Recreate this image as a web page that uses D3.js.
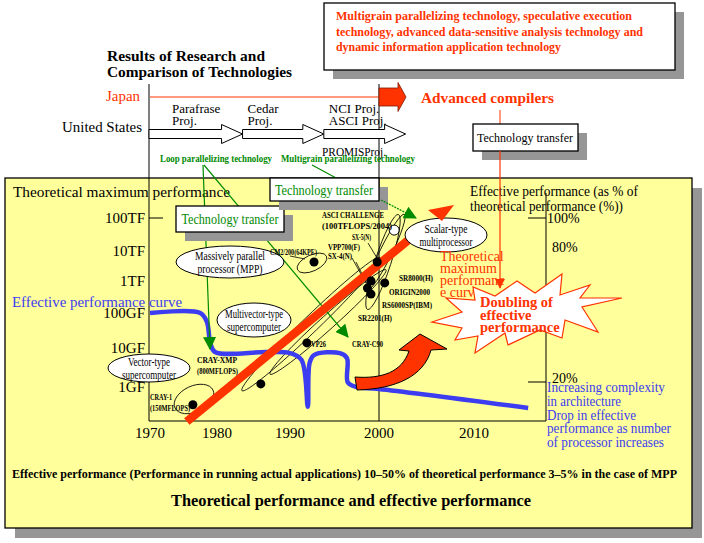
<!DOCTYPE html>
<html lang="en">
<head>
<meta charset="utf-8">
<title>Theoretical performance and effective performance</title>
<script src="https://d3js.org/d3.v7.min.js"></script>
<style>
  body { margin: 0; background: #fff; }
</style>
</head>
<body>
<script>
// axis ticks (the original axis is hand drawn, so ticks are not evenly spaced)
var yearTicks = [1970, 1980, 1990, 2000, 2010];
var perfTicks = [1, 10, 100, 1000, 10000, 100000];          // GFLOPS
var perfLabels = ["1GF", "10GF", "100GF", "1TF", "10TF", "100TF"];
var pctTicks = [20, 80, 100];
var pctLabels = ["20%", "80%", "100%"];

// effective performance curve (year, GFLOPS)
var effYears = [1970, 1977.5, 1978.5, 1979, 1979.7, 1986.8, 1990, 1991.3, 1992, 1992.2, 1992.7, 1995.6, 1996.4, 1996.5, 1997.5, 2000, 2015.7];
var effPerf  = [100, 100, 55, 14, 7.9, 7.9, 7.4, 4.9, 0.31, 4.1, 6.6, 7.4, 5.5, 1.3, 1.0, 0.89, 0.29];

// theoretical maximum performance line
var theoYears = [1975.5, 2003.1];
var theoPerf = [0.13, 21500];

// machines (year, GFLOPS)
var machineYears = [1976.4, 1986.0, 1991.9, 1992.7, 1999.8, 1999.1, 2000.6, 1998.7, 1999.1];
var machinePerf  = [0.35, 1.2, 14, 4300, 4300, 1000, 870, 600, 390];
var plannedYears = [2001.6];          // ASCI challenge (open circle)
var plannedPerf  = [43000];

// US research projects on the time line
var projNames = [["Parafrase", "Proj."], ["Cedar", "Proj."], ["NCI Proj.", "ASCI Proj."]];
var projStart = [1970, 1983.5, 1993.8];
var projEnd   = [1983.5, 1993.8, 2002.8];

var W = 704, H = 543;
var red = "#ff3300", blue = "#3c3cf0", green = "#008a00", yellow = "#ffff9c", shadow = "#969696";
var serif = "'Liberation Serif'";

var svg = d3.select("body").append("svg").attr("width", W).attr("height", H).style("display", "block");

var x = d3.scaleLinear().domain(yearTicks).range([150, 217, 290, 379, 474]);
var y = d3.scaleLog().domain(perfTicks).range([387, 348, 313, 281, 251, 218]);
var pct = d3.scaleLinear().domain(pctTicks).range([382, 247, 218]);

var defs = svg.append("defs");
defs.append("marker").attr("id", "garrow")
    .attr("viewBox", "0 0 12 12").attr("refX", 11).attr("refY", 6)
    .attr("markerWidth", 13).attr("markerHeight", 13)
    .attr("markerUnits", "userSpaceOnUse").attr("orient", "auto")
  .append("path").attr("d", "M0,0 L12,6 L0,12 Z").attr("fill", green);
defs.append("marker").attr("id", "rarrow")
    .attr("viewBox", "0 0 12 12").attr("refX", 11).attr("refY", 6)
    .attr("markerWidth", 10).attr("markerHeight", 10)
    .attr("markerUnits", "userSpaceOnUse").attr("orient", "auto")
  .append("path").attr("d", "M0,0 L12,6 L0,12 Z").attr("fill", red);

function blockArrow(x0, x1, yc, hb, hh, hl) {
  return [[x0, yc - hb], [x1 - hl, yc - hb], [x1 - hl, yc - hh], [x1, yc],
          [x1 - hl, yc + hh], [x1 - hl, yc + hb], [x0, yc + hb]].join(" ");
}

function shadowBox(x0, y0, w, h, off, fill, stroke) {
  svg.append("rect").attr("x", x0 + off).attr("y", y0 + off).attr("width", w).attr("height", h).attr("fill", shadow);
  svg.append("rect").attr("x", x0).attr("y", y0).attr("width", w).attr("height", h)
     .attr("fill", fill).attr("stroke", stroke).attr("stroke-width", 1.3);
}

function txt(x0, y0, s, size, len) {
  var t = svg.append("text").attr("x", x0).attr("y", y0)
     .style("font-family", serif).style("font-size", size + "px").text(s);
  if (len) t.attr("textLength", len).attr("lengthAdjust", "spacingAndGlyphs");
  return t;
}

// ---------- top part ----------
shadowBox(324, 3, 351, 67, 9, "#fff", "#000");
var topLines = ["Multigrain parallelizing technology, speculative execution",
                "technology, advanced data-sensitive analysis technology and",
                "dynamic information application technology"];
var topLen = [296, 307, 225];
topLines.forEach(function (t, i) {
  txt(336, 20 + i * 15.5, t, 12.5, topLen[i]).attr("fill", red).style("font-weight", "bold");
});

txt(107, 61, "Results of Research and", 14.5, 158).style("font-weight", "bold");
txt(107, 77, "Comparison of Technologies", 14.5, 185).style("font-weight", "bold");

// main yellow panel
shadowBox(5, 178, 687, 350, 10, yellow, "#000");

// vertical time line markers
svg.append("line").attr("x1", x(1970) - 1).attr("x2", x(1970) - 1).attr("y1", 84).attr("y2", 421).attr("stroke", "#000");
svg.append("line").attr("x1", x(2000)).attr("x2", x(2000)).attr("y1", 84).attr("y2", 421).attr("stroke", "#000");

// Japan
txt(106, 101, "Japan", 14.5, 34).attr("fill", red);
svg.append("line").attr("x1", x(1970)).attr("x2", x(2000)).attr("y1", 97).attr("y2", 97).attr("stroke", red);
svg.append("polygon").attr("points", blockArrow(x(2000), 406, 97, 9, 14.5, 8))
   .attr("fill", red).attr("stroke", "#7a1a00").attr("stroke-width", 0.8);
txt(421, 103, "Advanced compilers", 15, 133).attr("fill", red).style("font-weight", "bold");

// United States
txt(62, 132, "United States", 14.5, 80);
projNames.forEach(function (p, i) {
  var x0 = x(projStart[i]) - (i === 0 ? 1 : 0), x1 = x(projEnd[i]);
  svg.append("polygon").attr("points", blockArrow(x0, x1, 134, 4.5, 9.5, 21))
     .attr("fill", "#fff").attr("stroke", "#000").attr("stroke-width", 1);
  p.forEach(function (t, j) {
    txt(x0 + (i === 0 ? 23 : 5), 113 + j * 12, t, 13);
  });
});
txt(322, 156, "PROMISProj.", 13, 64);

txt(160, 162, "Loop parallelizing technology", 9.5, 112).attr("fill", green).style("font-weight", "bold");
txt(281, 162, "Multigrain parallelizing technology", 9.5, 134).attr("fill", green).style("font-weight", "bold");

// technology transfer box (top right) and red pointer
svg.append("line").attr("x1", 500).attr("x2", 500).attr("y1", 110).attr("y2", 126).attr("stroke", red);
shadowBox(473, 124, 105, 27, 9, "#fff", "#000");
txt(525, 142, "Technology transfer", 13, 96).attr("text-anchor", "middle");

// ---------- chart panel ----------
txt(13, 197, "Theoretical maximum performance", 15, 217);

// axes lines
svg.append("line").attr("x1", x(1970) - 1).attr("x2", 546).attr("y1", 421).attr("y2", 421).attr("stroke", "#000");
svg.append("line").attr("x1", 546).attr("x2", 546).attr("y1", 193).attr("y2", 421).attr("stroke", "#000");

// left axis labels
perfTicks.forEach(function (v, i) {
  txt(145, y(v) + 5, perfLabels[i], 15).attr("text-anchor", "end");
});
svg.append("line").attr("x1", 149).attr("x2", 163).attr("y1", y(100000)).attr("y2", y(100000)).attr("stroke", "#000");

// bottom axis labels
yearTicks.forEach(function (v) {
  txt(x(v), 438, String(v), 15).attr("text-anchor", "middle");
});

// right axis
txt(470, 196, "Effective performance (as % of", 14, 168);
txt(470, 211, "theoretical performance (%))", 14, 153);
pctTicks.forEach(function (v, i) {
  if (v !== 80) {
    svg.append("line").attr("x1", 528).attr("x2", 546).attr("y1", pct(v)).attr("y2", pct(v)).attr("stroke", "#000");
  }
  txt(v === 100 ? 547 : 552, pct(v) + (v === 20 ? 1 : 5), pctLabels[i], 14);
});

// blue text
txt(12, 307, "Effective performance curve", 15.5, 170).attr("fill", blue);
var blueLines = ["Increasing complexity", "in architecture", "Drop in effective", "performance as number", "of processor increases"];
var blueLen = [118, 74, 89, 124, 117];
blueLines.forEach(function (t, i) {
  txt(547, 392 + i * 13.8, t, 14, blueLen[i]).attr("fill", blue);
});

// loops grouping machines (thin black)
var loops = [
  [194, 399, 21, 13, -25],
  [311, 324, 96, 8, -44],
  [328, 322, 78, 7, -42],
  [312, 263, 16, 8, -25],
  [383, 262, 50, 8, -72],
  [386, 252, 42, 6, -64]
];
loops.forEach(function (l) {
  svg.append("ellipse").attr("cx", 0).attr("cy", 0).attr("rx", l[2]).attr("ry", l[3])
     .attr("transform", "translate(" + l[0] + "," + l[1] + ") rotate(" + l[4] + ")")
     .attr("fill", "none").attr("stroke", "#000").attr("stroke-width", 0.8);
});
[[290, 256, 305, 259], [368, 243, 377, 258], [352, 258, 366, 283], [356, 262, 370, 290]].forEach(function (s) {
  svg.append("line").attr("x1", s[0]).attr("y1", s[1]).attr("x2", s[2]).attr("y2", s[3])
     .attr("stroke", "#000").attr("stroke-width", 0.8);
});

// effective performance curve
var effLine = d3.line().x(function (d) { return x(d[0]); }).y(function (d) { return y(d[1]); })
    .curve(d3.curveCatmullRom.alpha(0.5));
svg.append("path").datum(d3.zip(effYears, effPerf)).attr("d", effLine)
   .attr("fill", "none").attr("stroke", blue).attr("stroke-width", 4.5).attr("stroke-linejoin", "round");

// green arrows (under the boxes)
svg.append("line").attr("x1", 203).attr("y1", 165).attr("x2", 210).attr("y2", 349)
   .attr("stroke", green).attr("stroke-width", 1.2).attr("marker-end", "url(#garrow)");
svg.append("line").attr("x1", 204).attr("y1", 165).attr("x2", 348).attr("y2", 337)
   .attr("stroke", green).attr("stroke-width", 1.2).attr("marker-end", "url(#garrow)");
svg.append("line").attr("x1", 312).attr("y1", 165).attr("x2", 338).attr("y2", 179)
   .attr("stroke", green).attr("stroke-width", 1.2);

// theoretical maximum line
svg.append("path").datum(d3.zip(theoYears, theoPerf))
   .attr("d", d3.line().x(function (d) { return x(d[0]); }).y(function (d) { return y(d[1]); }))
   .attr("stroke", red).attr("stroke-width", 8.5);

// labelled groups
var groups = [
  { cx: 230, cy: 262, rx: 54, ry: 16, lines: ["Massively parallel", "processor (MPP)"], len: [70, 65] },
  { cx: 254, cy: 320, rx: 37, ry: 17, lines: ["Multivector-type", "supercomputer"], len: [58, 54] },
  { cx: 149, cy: 368, rx: 41, ry: 14, lines: ["Vector-type", "supercomputer"], len: [42, 54] },
  { cx: 446, cy: 235, rx: 41, ry: 17, lines: ["Scalar-type", "multiprocessor"], len: [43, 53] }
];
groups.forEach(function (g) {
  svg.append("ellipse").attr("cx", g.cx).attr("cy", g.cy).attr("rx", g.rx).attr("ry", g.ry)
     .attr("fill", "#fff").attr("stroke", "#000").attr("stroke-width", 1);
  g.lines.forEach(function (t, j) {
    txt(g.cx, g.cy - 2 + j * 13, t, 12, g.len[j]).attr("text-anchor", "middle");
  });
});

// machine dots
svg.selectAll("circle.m").data(d3.zip(machineYears, machinePerf)).enter().append("circle")
   .attr("class", "m").attr("cx", function (d) { return x(d[0]); }).attr("cy", function (d) { return y(d[1]); })
   .attr("r", 4.5).attr("fill", "#000");
svg.selectAll("circle.p").data(d3.zip(plannedYears, plannedPerf)).enter().append("circle")
   .attr("class", "p").attr("cx", function (d) { return x(d[0]); }).attr("cy", function (d) { return y(d[1]); })
   .attr("r", 5).attr("fill", "#fff").attr("stroke", "#000");

// machine labels
var mLabels = [
  [150, 400, "CRAY-1", 22], [150, 411, "(150MFLOPS)", 40],
  [197, 363, "CRAY-XMP", 40], [197, 374, "(800MFLOPS)", 41],
  [311, 347, "VP26", 15], [352, 347, "CRAY-C90", 31],
  [270, 255, "CM2/200(64KPE)", 47],
  [322, 218, "ASCI CHALLENGE", 62], [322, 229, "(100TFLOPS/2004)", 70],
  [352, 240, "SX-5(N)", 19], [328, 250, "VPP700(F)", 32], [328, 259, "SX-4(N)", 24],
  [399, 281, "SR8000(H)", 34], [389, 295, "ORIGIN2000", 41], [382, 308, "RS6000SP(IBM)", 50],
  [358, 321, "SR2201(H)", 34]
];
mLabels.forEach(function (m) {
  txt(m[0], m[1], m[2], 8.5, m[3]).style("font-weight", "bold");
});

// technology transfer boxes (green)
shadowBox(176, 206, 108, 26, 9, "#fff", "#000");
txt(230, 224, "Technology transfer", 14, 97).attr("text-anchor", "middle").attr("fill", green);
shadowBox(270, 178, 109, 23, 9, "#fff", "#000");
txt(324, 195, "Technology transfer", 14, 98).attr("text-anchor", "middle").attr("fill", green);
svg.append("line").attr("x1", 381).attr("y1", 200).attr("x2", 416).attr("y2", 218)
   .attr("stroke", green).attr("stroke-width", 1.2).attr("stroke-dasharray", "2,1").attr("marker-end", "url(#garrow)");

// red pointer from compilers
svg.append("line").attr("x1", 500).attr("x2", 500).attr("y1", 151).attr("y2", 288)
   .attr("stroke", red).attr("stroke-width", 1.2).attr("marker-end", "url(#rarrow)");
svg.append("polygon").attr("points", "428,210 454,205 442,221").attr("fill", red);

// red text
["Theoretical", "maximum", "performanc", "e curve"].forEach(function (t, i) {
  txt(440, 261 + i * 12, t, 14).attr("fill", red);
});

// starburst
var star = [[432,322],[462,312],[446,298],[475,300],[473,287],[495,296],[517,281],[535,293],[562,274],[560,295],
            [590,285],[580,298],[622,298],[582,307],[598,332],[565,320],[562,338],[540,330],[508,345],[505,333],
            [475,353],[478,336],[455,340],[462,328]];
svg.append("polygon").attr("points", star.join(" ")).attr("fill", "#fff").attr("stroke", red).attr("stroke-width", 1.2);
["Doubling of", "effective", "performance"].forEach(function (t, i) {
  txt(480, 307 + i * 12.5, t, 14.5).attr("fill", red).style("font-weight", "bold");
});

// curved red arrow
svg.append("path")
   .attr("d", "M355,377 C382,379 402,372 409,351 L399,350 L420,334 L447,349 L431,350 C424,376 396,389 357,390 Z")
   .attr("fill", red).attr("stroke", "#000").attr("stroke-width", 1);

// bottom texts
txt(12, 478, "Effective performance (Performance in running actual applications) 10\u201350% of theoretical performance 3\u20135% in the case of MPP", 12, 665)
   .style("font-weight", "bold");
txt(351, 506, "Theoretical performance and effective performance", 16, 360)
   .attr("text-anchor", "middle").style("font-weight", "bold");
</script>
</body>
</html>
